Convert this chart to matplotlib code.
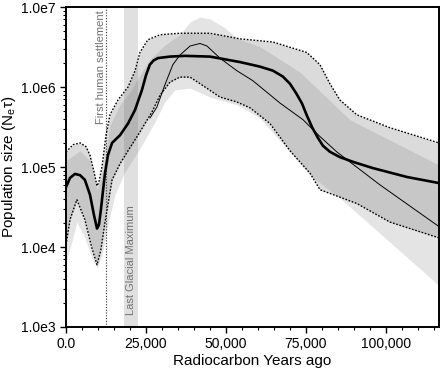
import numpy as np
import matplotlib
matplotlib.use('Agg')
import matplotlib.pyplot as plt
from matplotlib.ticker import FixedLocator, FuncFormatter, LogLocator, MultipleLocator

plt.rcParams['font.family'] = ['Liberation Sans', 'DejaVu Sans']
plt.rcParams['mathtext.fontset'] = 'custom'
plt.rcParams['mathtext.rm'] = 'Liberation Sans'
plt.rcParams['mathtext.it'] = 'Liberation Sans:italic'

# model 1: median (thick) with dotted 95% HPD bounds
med_x = [0, 1250, 2800, 4400, 5900, 7500, 8750, 9700, 10300, 10900, 11600, 12200,
         13100, 14400, 16900, 19400, 21600, 23750, 25000, 26200, 27400, 28750, 32500,
         37200, 45000, 54400, 60600, 64700, 67800, 70000, 72000, 73800, 75300, 77000,
         78800, 80300, 82500, 85600, 90000, 95900, 106600, 116600]
med_y = [5.6e4, 7.3e4, 8.2e4, 7.9e4, 6.9e4, 4.5e4, 2.5e4, 1.7e4, 1.9e4, 2.9e4, 5.2e4, 8.4e4,
         1.4e5, 2.0e5, 2.5e5, 3.5e5, 5.2e5, 9.2e5, 1.4e6, 1.9e6, 2.15e6, 2.3e6, 2.4e6,
         2.45e6, 2.4e6, 2.05e6, 1.8e6, 1.6e6, 1.35e6, 1.1e6, 8.3e5, 6.2e5, 4.4e5, 3.1e5,
         2.3e5, 1.85e5, 1.55e5, 1.33e5, 1.15e5, 9.7e4, 7.5e4, 6.3e4]

up1_x = [0, 2200, 4400, 6250, 7500, 8750, 9700, 10300, 11250, 12500, 13750, 16250,
         19400, 21600, 23100, 25600, 29400, 35600, 45000, 54400, 64700, 75300,
         79400, 82500, 85600, 90900, 101250, 116600]
up1_y = [1.54e5, 1.9e5, 2.0e5, 1.8e5, 1.4e5, 8.7e4, 5.8e4, 6.5e4, 1.0e5, 2.5e5, 4.5e5, 6.9e5,
         1.0e6, 1.6e6, 2.7e6, 3.9e6, 4.5e6, 4.7e6, 4.7e6, 4.0e6, 3.65e6, 2.7e6,
         1.9e6, 1.1e6, 6.9e5, 4.5e5, 3.1e5, 2.0e5]

lo1_x = [0, 1250, 3400, 5900, 8100, 9700, 10900, 12200, 14400, 16900, 19400, 22500,
         24700, 26900, 29400, 32500, 35600, 38750, 41900, 48100, 53400, 57500,
         63750, 70000, 76250, 79400, 85600, 90900, 101250, 116600]
lo1_y = [1.06e4, 2.2e4, 3.9e4, 2.2e4, 9.7e3, 6.0e3, 9.2e3, 2.05e4, 6.9e4, 1.1e5, 1.6e5, 2.5e5,
         3.5e5, 4.9e5, 7.9e5, 1.15e6, 1.33e6, 1.33e6, 1.1e6, 7.5e5, 6.5e5, 5.5e5,
         3.5e5, 1.6e5, 8.4e4, 5.2e4, 4.2e4, 3.5e4, 2.05e4, 1.3e4]

# model 2: thin median with lighter band
up2_x = [0, 4400, 7500, 9700, 11600, 13750, 16900, 20000, 23100, 26250, 30900, 35600,
         38750, 41900, 45000, 49700, 53400, 60600, 73100, 88750, 116600]
up2_y = [1.2e5, 1.6e5, 1.2e5, 5.2e4, 9.2e4, 3.35e5, 6.0e5, 8.7e5, 1.4e6, 2.2e6, 3.35e6, 4.5e6,
         6.5e6, 7.5e6, 7.1e6, 5.5e6, 4.1e6, 3.2e6, 1.54e6, 3.9e5, 1.06e5]

lo2_x = [0, 1900, 3400, 5900, 8100, 9700, 11250, 13100, 15300, 18400, 23100, 27800,
         30900, 34000, 38750, 45000, 53400, 60600, 70000, 76250, 85600, 116600]
lo2_y = [6.3e3, 1.2e4, 2.05e4, 1.3e4, 7.3e3, 5.5e3, 7.9e3, 1.9e4, 4.5e4, 8.7e4, 1.7e5, 3.65e5,
         6.5e5, 9.2e5, 9.7e5, 7.5e5, 6.0e5, 4.1e5, 1.54e5, 7.9e4, 4.1e4, 3.3e3]

thin_x = [26250, 28400, 30900, 33400, 35600, 38750, 41900, 44100, 48100, 53400, 58400,
          66900, 74100, 79400, 84700, 98100, 116600]
thin_y = [4.1e5, 5.6e5, 1.06e6, 1.9e6, 2.5e6, 3.25e6, 3.5e6, 3.25e6, 2.3e6, 1.6e6, 1.2e6,
          6.3e5, 3.9e5, 2.4e5, 1.54e5, 6.0e4, 1.8e4]

settlement = 12500
lgm = (18000, 22400)
xmax = 116600

fig = plt.figure(figsize=(4.4, 3.71), dpi=100)
ax = fig.add_axes([0.15, 0.1186, 0.8477, 0.8625])
ax.set_yscale('log')

def band(xs, lo_x, lo_y, hi_x, hi_y):
    # put both bounds on a common x grid (the union of read points)
    lo = 10 ** np.interp(xs, lo_x, np.log10(lo_y))
    hi = 10 ** np.interp(xs, hi_x, np.log10(hi_y))
    return lo, hi

grid = np.array(sorted(set(up1_x) | set(lo1_x) | set(up2_x) | set(lo2_x)))
lo2, hi2 = band(grid, lo2_x, lo2_y, up2_x, up2_y)
ax.fill_between(grid, lo2, hi2, color='0.45', alpha=0.19, lw=0, zorder=1)
lo1, hi1 = band(grid, lo1_x, lo1_y, up1_x, up1_y)
ax.fill_between(grid, lo1, hi1, color='0.45', alpha=0.25, lw=0, zorder=1)

ax.axvspan(lgm[0], lgm[1], color='0.45', alpha=0.22, lw=0, zorder=1)
ax.axvline(settlement, color='0.2', ls=(0, (1, 1.5)), lw=0.8, zorder=2)

ax.plot(up1_x, up1_y, color='black', ls=(0, (1.2, 1.2)), lw=1.0, zorder=3)
ax.plot(lo1_x, lo1_y, color='black', ls=(0, (1.2, 1.2)), lw=1.0, zorder=3)
ax.plot(thin_x, thin_y, color='black', lw=0.7, zorder=3)
ax.plot(med_x, med_y, color='black', lw=1.9, zorder=4)

ax.text(10900, 9.2e6, 'First human settlement', rotation=90, va='top', ha='center',
        fontsize=8, color='0.45', zorder=5)
ax.text(20400, 1.42e3, 'Last Glacial Maximum', rotation=90, va='bottom', ha='center',
        fontsize=8, color='0.45', zorder=5)

ax.set_xlim(0, xmax)
ax.set_ylim(1e3, 1e7)

ax.xaxis.set_major_locator(MultipleLocator(25000))
ax.xaxis.set_minor_locator(MultipleLocator(5000))
ax.xaxis.set_major_formatter(FuncFormatter(lambda v, p: '0.0' if v == 0 else f'{int(v):,}'))
ax.yaxis.set_major_locator(FixedLocator([1e3, 1e4, 1e5, 1e6, 1e7]))
ax.yaxis.set_minor_locator(LogLocator(base=10, subs=np.arange(2, 10)))
ax.yaxis.set_major_formatter(FuncFormatter(lambda v, p: f'1.0e{int(round(np.log10(v)))}'))
ax.yaxis.set_minor_formatter(FuncFormatter(lambda v, p: ''))

ax.tick_params(which='major', direction='out', length=4, width=1, labelsize=10)
ax.tick_params(which='minor', direction='out', length=2, width=0.8)
for s in ax.spines.values():
    s.set_linewidth(1.4)

ax.set_xlabel('Radiocarbon Years ago', fontsize=11, labelpad=2)
ax.set_ylabel('Population size (N$_{\\mathrm{e}}$τ)', fontsize=11)
ax.yaxis.set_label_coords(-0.128, 0.5)

fig.savefig('out.png', dpi=100)
